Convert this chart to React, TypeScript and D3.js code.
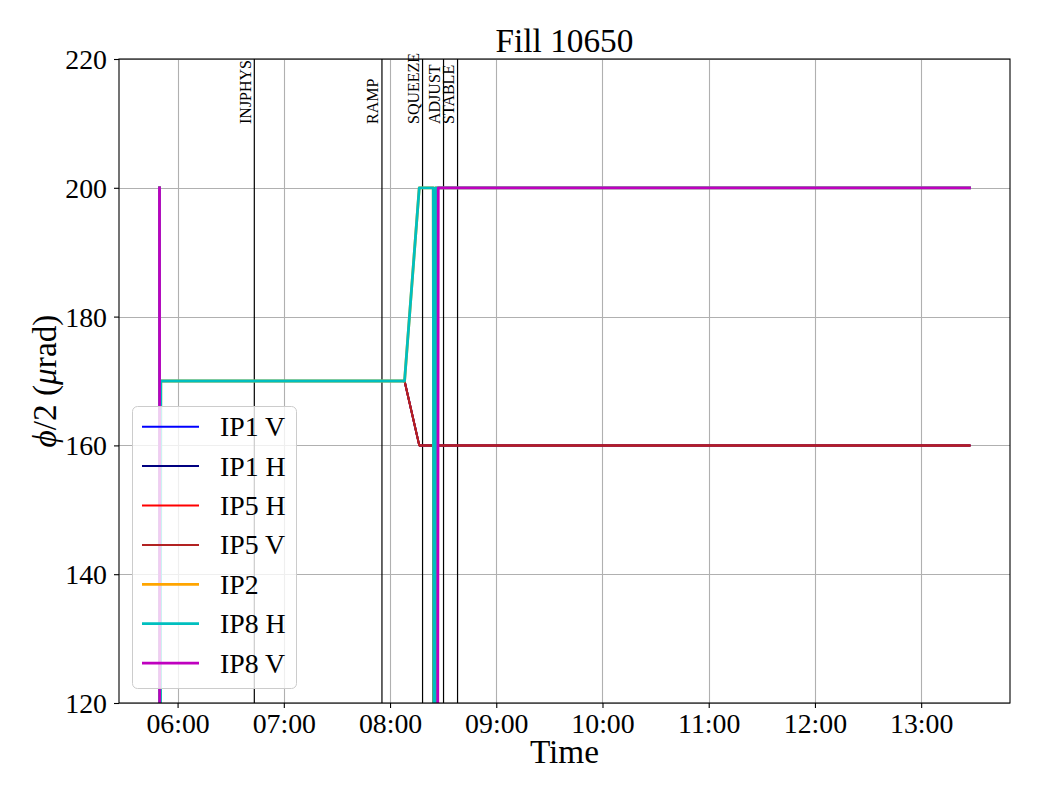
import React, { useEffect, useRef } from "react";
import * as d3 from "d3";

const DAY = "2025-05-10";

const SERIES_NAMES = ["IP1 V", "IP1 H", "IP5 H", "IP5 V", "IP2", "IP8 H", "IP8 V"];
const SERIES_COLORS = ["#0000ff", "#000080", "#ff0000", "#b22222", "#ffa500", "#00bfbf", "#bf00bf"];
const SERIES_WIDTHS = [2, 2, 2, 2, 2.8, 2.8, 2.8];

// IP1 and IP5 follow the same knob (IP1 hidden below IP5)
const IP1_TIMES = ["05:49:47", "05:50:00", "05:50:20", "08:08:12", "08:16:30", "08:24:25", "08:25:10", "08:26:50", "13:27:18"];
const IP1_VALUES = [200, 0, 170, 170, 160, 160, 0, 160, 160];
const IP5_TIMES = ["05:49:47", "05:50:00", "05:50:20", "08:08:12", "08:16:30", "08:24:25", "08:25:10", "08:26:50", "13:27:18"];
const IP5_VALUES = [200, 0, 170, 170, 160, 160, 0, 160, 160];
const IP2_TIMES = ["05:49:47", "05:50:00", "05:50:30", "08:08:12", "08:16:30", "08:24:25", "08:25:10", "08:25:50", "13:27:18"];
const IP2_VALUES = [200, 0, 170, 170, 200, 200, 0, 200, 200];
const IP8H_TIMES = ["05:49:47", "05:50:00", "05:50:30", "08:08:12", "08:16:30", "08:24:25", "08:25:10", "08:25:50", "13:27:18"];
const IP8H_VALUES = [200, 0, 170, 170, 200, 200, 0, 200, 200];
const IP8V_TIMES = ["05:49:47", "05:50:00", "08:26:30", "08:27:14", "13:27:18"];
const IP8V_VALUES = [200, 0, 0, 200, 200];

const SERIES_TIMES = [IP1_TIMES, IP1_TIMES, IP5_TIMES, IP5_TIMES, IP2_TIMES, IP8H_TIMES, IP8V_TIMES];
const SERIES_VALUES = [IP1_VALUES, IP1_VALUES, IP5_VALUES, IP5_VALUES, IP2_VALUES, IP8H_VALUES, IP8V_VALUES];

const EVENT_NAMES = ["INJPHYS", "RAMP", "SQUEEZE", "ADJUST", "STABLE"];
const EVENT_TIMES = ["06:43:20", "07:55:26", "08:18:22", "08:30:13", "08:38:08"];

const Y_TICKS = [120, 140, 160, 180, 200, 220];

const FONT = "'Liberation Serif', 'DejaVu Serif', serif";

const App = () => {
  const svgRef = useRef<SVGSVGElement>(null);

  useEffect(() => {
    const svg = d3.select(svgRef.current);
    svg.selectAll("*").remove();

    const width = 1040;
    const height = 800;
    const margin = { top: 59, right: 30, bottom: 97, left: 119 };
    const x0 = margin.left;
    const x1 = width - margin.right;
    const y0 = margin.top;
    const y1 = height - margin.bottom;

    const parse = d3.utcParse("%Y-%m-%d %H:%M:%S");
    const toDate = (t: string) => parse(`${DAY} ${t}`) as Date;

    const series = SERIES_NAMES.map((name, i) => ({
      name,
      color: SERIES_COLORS[i],
      width: SERIES_WIDTHS[i],
      points: SERIES_TIMES[i].map((t, j) => ({ t: toDate(t), v: SERIES_VALUES[i][j] })),
    }));

    // matplotlib style 5% margins on the time axis
    const allTimes = series.flatMap((s) => s.points.map((p) => +p.t));
    const tMin = d3.min(allTimes) as number;
    const tMax = d3.max(allTimes) as number;
    const pad = (tMax - tMin) * 0.05;

    const xScale = d3
      .scaleUtc()
      .domain([new Date(tMin - pad), new Date(tMax + pad)])
      .range([x0, x1]);

    const yScale = d3.scaleLinear().domain([120, 220]).range([y1, y0]);

    const xTicks = xScale.ticks(d3.utcHour.every(1) as d3.TimeInterval);
    const fmt = d3.utcFormat("%H:%M");

    // Grid
    const grid = svg.append("g").attr("stroke", "#b0b0b0").attr("stroke-width", 1.1);
    grid
      .selectAll("line.gx")
      .data(xTicks)
      .join("line")
      .attr("x1", (d) => Math.round(xScale(d)) + 0.5)
      .attr("x2", (d) => Math.round(xScale(d)) + 0.5)
      .attr("y1", y0)
      .attr("y2", y1);
    grid
      .selectAll("line.gy")
      .data(Y_TICKS)
      .join("line")
      .attr("x1", x0)
      .attr("x2", x1)
      .attr("y1", (d) => Math.round(yScale(d)) + 0.5)
      .attr("y2", (d) => Math.round(yScale(d)) + 0.5);

    // Clip
    svg
      .append("defs")
      .append("clipPath")
      .attr("id", "plot-clip")
      .append("rect")
      .attr("x", x0)
      .attr("y", y0)
      .attr("width", x1 - x0)
      .attr("height", y1 - y0);

    // Event lines
    const events = svg.append("g");
    EVENT_TIMES.forEach((t, i) => {
      const x = xScale(toDate(t));
      events
        .append("line")
        .attr("x1", x)
        .attr("x2", x)
        .attr("y1", y0)
        .attr("y2", y1)
        .attr("stroke", "#000")
        .attr("stroke-width", 1.2);
      events
        .append("text")
        .attr("transform", `translate(${x - 3.5},124) rotate(-90)`)
        .attr("font-family", FONT)
        .attr("font-size", 16)
        .attr("fill", "#000")
        .text(EVENT_NAMES[i]);
    });

    // Series lines
    const line = d3
      .line<{ t: Date; v: number }>()
      .x((d) => xScale(d.t))
      .y((d) => yScale(d.v));

    svg
      .append("g")
      .attr("clip-path", "url(#plot-clip)")
      .selectAll("path")
      .data(series)
      .join("path")
      .attr("d", (d) => line(d.points))
      .attr("fill", "none")
      .attr("stroke", (d) => d.color)
      .attr("stroke-width", (d) => d.width)
      .attr("stroke-linejoin", "round")
      .attr("stroke-linecap", "square");

    // Axes frame
    svg
      .append("rect")
      .attr("x", x0)
      .attr("y", y0)
      .attr("width", x1 - x0)
      .attr("height", y1 - y0)
      .attr("fill", "none")
      .attr("stroke", "#000")
      .attr("stroke-width", 1.1);

    // X axis
    const xAxis = svg
      .append("g")
      .attr("transform", `translate(0,${y1})`)
      .call(d3.axisBottom(xScale).tickValues(xTicks).tickFormat((d) => fmt(d as Date)).tickSize(5).tickPadding(5));
    xAxis.select(".domain").remove();
    xAxis.selectAll("line").attr("stroke-width", 1.1);
    xAxis.selectAll("text").attr("font-family", FONT).attr("font-size", 27.8).attr("fill", "#000");

    // Y axis
    const yAxis = svg
      .append("g")
      .attr("transform", `translate(${x0},0)`)
      .call(d3.axisLeft(yScale).tickValues(Y_TICKS).tickSize(5).tickPadding(7));
    yAxis.select(".domain").remove();
    yAxis.selectAll("line").attr("stroke-width", 1.1);
    yAxis
      .selectAll("text")
      .attr("font-family", FONT)
      .attr("font-size", 27.8)
      .attr("fill", "#000")
      .attr("dy", "0.34em");

    // Title
    svg
      .append("text")
      .attr("x", (x0 + x1) / 2)
      .attr("y", 52)
      .attr("text-anchor", "middle")
      .attr("font-family", FONT)
      .attr("font-size", 33.3)
      .text("Fill 10650");

    // X label
    svg
      .append("text")
      .attr("x", (x0 + x1) / 2)
      .attr("y", 763)
      .attr("text-anchor", "middle")
      .attr("font-family", FONT)
      .attr("font-size", 33.3)
      .text("Time");

    // Y label
    const yl = svg
      .append("text")
      .attr("transform", `translate(56,${(y0 + y1) / 2}) rotate(-90)`)
      .attr("text-anchor", "middle")
      .attr("font-family", FONT)
      .attr("font-size", 33.3);
    yl.append("tspan").attr("font-style", "italic").text("\u03d5");
    yl.append("tspan").text("/2 (");
    yl.append("tspan").attr("font-style", "italic").text("\u03bc");
    yl.append("tspan").text("rad)");

    // Legend
    const lg = svg.append("g");
    lg.append("rect")
      .attr("x", 132.5)
      .attr("y", 406.5)
      .attr("width", 164)
      .attr("height", 282)
      .attr("rx", 5)
      .attr("fill", "#fff")
      .attr("fill-opacity", 0.8)
      .attr("stroke", "#cccccc");
    series.forEach((s, i) => {
      const cy = 426.7 + i * 39.4;
      lg.append("line")
        .attr("x1", 142)
        .attr("x2", 199)
        .attr("y1", cy)
        .attr("y2", cy)
        .attr("stroke", s.color)
        .attr("stroke-width", s.width);
      lg.append("text")
        .attr("x", 220)
        .attr("y", cy + 9.5)
        .attr("font-family", FONT)
        .attr("font-size", 27.8)
        .text(s.name);
    });
  }, []);

  return (
    <svg
      ref={svgRef}
      width={1040}
      height={800}
      style={{ position: "absolute", left: 0, top: 0, background: "#fff" }}
    ></svg>
  );
};

export default App;
